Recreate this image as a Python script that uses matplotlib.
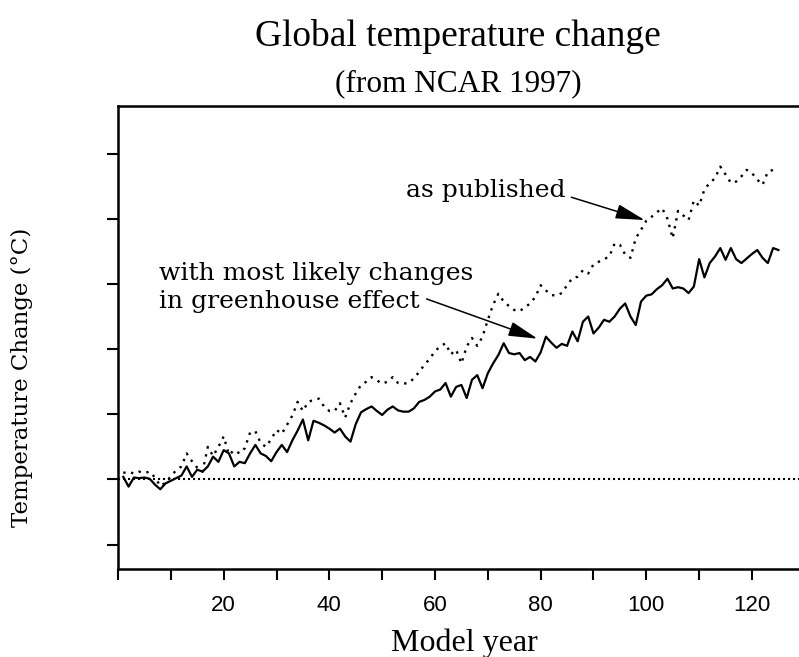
"""Global temperature change chart (NCAR 1997 model run), redrawn with Matplotlib."""

import matplotlib

matplotlib.use("Agg")

import matplotlib.pyplot as plt
import numpy as np

# Model years and temperature change (deg C)
YEARS_WITH_CHANGES = np.arange(1, 126)
WITH_CHANGES = [
    0.04, -0.11, 0.03, 0.02, 0.03, 0.01, -0.08, -0.15, -0.06, -0.02,
    0.02, 0.06, 0.20, 0.04, 0.15, 0.12, 0.20, 0.35, 0.27, 0.45,
    0.40, 0.20, 0.27, 0.25, 0.40, 0.53, 0.40, 0.36, 0.28, 0.42,
    0.53, 0.42, 0.60, 0.75, 0.92, 0.60, 0.90, 0.87, 0.83, 0.78,
    0.72, 0.78, 0.66, 0.58, 0.85, 1.03, 1.08, 1.12, 1.05, 0.99,
    1.07, 1.12, 1.06, 1.04, 1.04, 1.09, 1.19, 1.22, 1.27, 1.35,
    1.38, 1.48, 1.27, 1.42, 1.45, 1.25, 1.53, 1.60, 1.40, 1.63,
    1.78, 1.91, 2.09, 1.94, 1.92, 1.94, 1.83, 1.88, 1.81, 1.95,
    2.19, 2.10, 2.02, 2.08, 2.05, 2.27, 2.12, 2.42, 2.50, 2.24,
    2.33, 2.45, 2.42, 2.50, 2.62, 2.70, 2.50, 2.37, 2.73, 2.82,
    2.84, 2.92, 2.98, 3.08, 2.93, 2.95, 2.93, 2.86, 2.96, 3.38,
    3.10, 3.32, 3.42, 3.55, 3.37, 3.55, 3.38, 3.32, 3.39, 3.46,
    3.52, 3.40, 3.32, 3.55, 3.52,
]

YEARS_PUBLISHED = np.arange(1, 125)
PUBLISHED = [
    0.10, 0.12, 0.09, 0.12, 0.10, 0.12, 0.03, -0.10, -0.05, 0.05,
    0.14, 0.20, 0.40, 0.28, 0.18, 0.12, 0.50, 0.36, 0.50, 0.66,
    0.38, 0.45, 0.40, 0.48, 0.72, 0.74, 0.56, 0.50, 0.62, 0.76,
    0.70, 0.84, 0.98, 1.19, 1.05, 1.19, 1.22, 1.24, 1.12, 1.05,
    1.05, 1.17, 0.95, 1.17, 1.32, 1.45, 1.50, 1.57, 1.52, 1.47,
    1.50, 1.57, 1.48, 1.47, 1.48, 1.55, 1.65, 1.76, 1.85, 1.97,
    2.04, 2.09, 1.92, 1.99, 1.78, 2.04, 2.17, 2.05, 2.19, 2.45,
    2.68, 2.85, 2.73, 2.66, 2.60, 2.58, 2.64, 2.70, 2.80, 2.98,
    2.90, 2.83, 2.82, 2.86, 2.98, 3.09, 3.11, 3.21, 3.16, 3.30,
    3.34, 3.38, 3.42, 3.62, 3.60, 3.45, 3.40, 3.70, 3.83, 3.97,
    4.03, 4.10, 4.16, 4.00, 3.70, 4.12, 4.05, 3.98, 4.28, 4.20,
    4.45, 4.55, 4.62, 4.80, 4.68, 4.55, 4.57, 4.65, 4.75, 4.70,
    4.60, 4.52, 4.72, 4.75,
]

ZERO_LINE = 0.0
X_TICKS = list(range(0, 130, 10))
X_TICK_LABELS = ["" if t == 0 or t % 20 else str(t) for t in X_TICKS]
Y_TICKS = [-1, 0, 1, 2, 3, 4, 5]

# Styling
_DPI = 100
_SERIF = "Liberation Serif"
_NOTE_FONT = "DejaVu Serif"
_NOTE_SIZE = 18


def _arrow(ax, tail, tip):
    """Plain black arrow with a filled head, no text attached."""
    ax.annotate(
        "",
        xy=tip,
        xytext=tail,
        arrowprops=dict(
            arrowstyle="-|>,head_length=1.8,head_width=0.45",
            color="black",
            lw=1.1,
            shrinkA=0,
            shrinkB=0,
        ),
    )


fig = plt.figure(figsize=(7.99, 6.57), dpi=_DPI)
ax = fig.add_axes([0.1477, 0.1347, 0.8523, 0.704])

ax.plot(YEARS_WITH_CHANGES, WITH_CHANGES, color="black", lw=1.6)
ax.plot(YEARS_PUBLISHED, PUBLISHED, color="black", lw=1.7,
        linestyle=(0, (1, 2.4)))
ax.axhline(ZERO_LINE, color="black", lw=1.5, linestyle=(0, (1, 1.4)))

ax.set_xlim(0, 128.9)
ax.set_ylim(-1.366, 5.73)

ax.set_xticks(X_TICKS)
ax.set_xticklabels(X_TICK_LABELS, fontfamily="Liberation Sans", fontsize=16)
ax.set_yticks(Y_TICKS)
ax.set_yticklabels([])
ax.tick_params(direction="out", length=8, width=1.5, pad=11)

for side in ("left", "bottom", "top"):
    ax.spines[side].set_linewidth(1.8)
ax.spines["right"].set_visible(False)

# Annotations
ax.text(54.6, 4.33, "as published", fontfamily=_NOTE_FONT,
        fontsize=_NOTE_SIZE, va="baseline", ha="left")
_arrow(ax, (85.8, 4.33), (99.7, 3.98))

ax.text(7.7, 2.63, "with most likely changes\nin greenhouse effect",
        fontfamily=_NOTE_FONT, fontsize=_NOTE_SIZE, va="baseline",
        ha="left", linespacing=1.3)
_arrow(ax, (58.4, 2.77), (79.4, 2.16))

# Titles and axis labels placed in figure pixels
W, H = 799, 657
fig.text(458 / W, 1 - 46 / H, "Global temperature change",
         fontfamily=_SERIF, fontsize=27, ha="center", va="baseline")
fig.text(458 / W, 1 - 91 / H, "(from NCAR 1997)",
         fontfamily=_SERIF, fontsize=22.5, ha="center", va="baseline")
fig.text(464 / W, 1 - 651 / H, "Model year",
         fontfamily=_SERIF, fontsize=23, ha="center", va="baseline")
fig.text(22 / W, 1 - 377 / H, "Temperature Change (°C)",
         fontfamily=_NOTE_FONT, fontsize=16.5, rotation=90,
         ha="center", va="center")

fig.savefig("out.png", dpi=_DPI, facecolor="white")
plt.close(fig)
